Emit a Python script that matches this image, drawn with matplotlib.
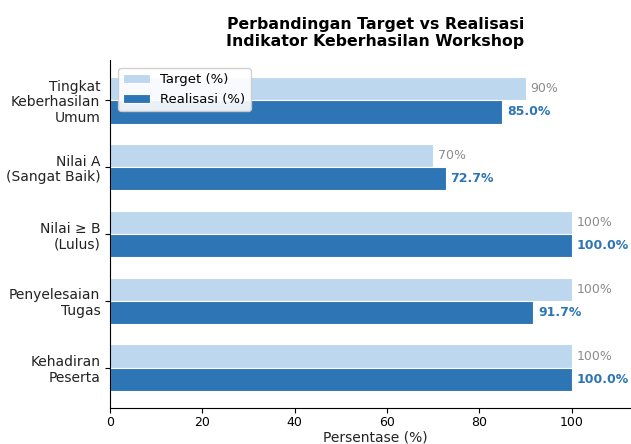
import matplotlib
matplotlib.use("Agg")
import matplotlib.pyplot as plt
import numpy as np

categories = ["Kehadiran\nPeserta", "Penyelesaian\nTugas", "Nilai ≥ B\n(Lulus)",
              "Nilai A\n(Sangat Baik)", "Tingkat\nKeberhasilan\nUmum"]
target = [100, 100, 100, 70, 90]
realisasi = [100.0, 91.7, 100.0, 72.7, 85.0]

fig = plt.figure(figsize=(6.31, 4.44), dpi=100)
W, H = 631, 444
left, right, top, bottom = 110, 641, 60, 408
ax = fig.add_axes([left / W, 1 - bottom / H, (right - left) / W, (bottom - top) / H])

y = np.arange(len(categories))
h = 0.35
ax.barh(y + h / 2, target, height=h, color="#bdd7ee", edgecolor="white", linewidth=0.8, label="Target (%)")
ax.barh(y - h / 2, realisasi, height=h, color="#2e75b6", edgecolor="white", linewidth=0.8, label="Realisasi (%)")

for yi, t, r in zip(y, target, realisasi):
    ax.text(t + 1, yi + h / 2, f"{t:.0f}%", va="center", ha="left", fontsize=9, color="#8c8c8c")
    ax.text(r + 1, yi - h / 2, f"{r:.1f}%", va="center", ha="left", fontsize=9, color="#2e75b6", fontweight="bold")

ax.set_yticks(y)
ax.set_yticklabels(categories, fontsize=10, color="#222222", linespacing=1.15)
ax.set_xlim(0, 115)
ax.set_ylim(-0.6, 4.6)
ax.set_xticks([0, 20, 40, 60, 80, 100])
ax.tick_params(axis="x", labelsize=9, pad=2)
ax.set_xlabel("Persentase (%)", fontsize=10, color="#222222", labelpad=1)
ax.spines["top"].set_visible(False)
ax.spines["right"].set_visible(False)
ax.set_title("Perbandingan Target vs Realisasi\nIndikator Keberhasilan Workshop",
             fontsize=11.3, fontweight="bold", pad=10)
ax.legend(loc="upper left", fontsize=9.5, framealpha=0.9, borderaxespad=0.6)

fig.savefig("out.png", dpi=100)
